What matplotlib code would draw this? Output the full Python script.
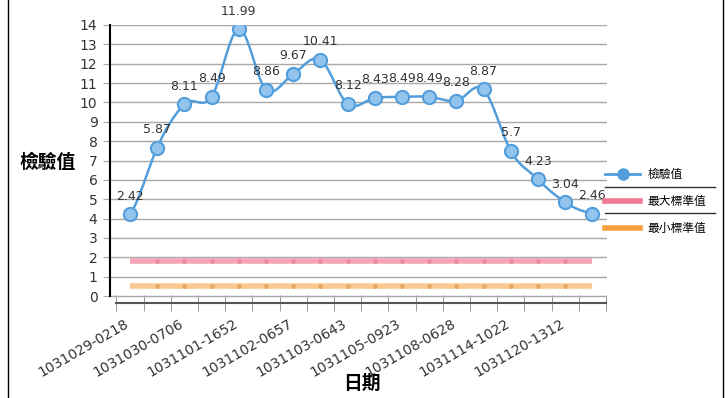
import matplotlib
matplotlib.use('Agg')
import matplotlib.pyplot as plt
from matplotlib.lines import Line2D
from matplotlib.transforms import ScaledTranslation
import numpy as np

plt.rcParams['font.family'] = ['DejaVu Sans', 'Noto Sans CJK TC']

# data
dates = ['1031029-0218', '1031029-1210', '1031030-0706', '1031030-1530',
         '1031101-1652', '1031102-0208', '1031102-0657', '1031102-1540',
         '1031103-0643', '1031104-0915', '1031105-0923', '1031106-0810',
         '1031108-0628', '1031110-0945', '1031114-1022', '1031117-1105',
         '1031120-1312', '1031124-0930']
values = [2.42, 5.87, 8.11, 8.49, 11.99, 8.86, 9.67, 10.41, 8.12,
          8.43, 8.49, 8.49, 8.28, 8.87, 5.7, 4.23, 3.04, 2.46]
max_std = 1.8
min_std = 0.5

blue = '#529edc'
pink = '#f5a5b5'
orange = '#f9c890'

def smooth(x, y, n=20, t=0.55):
    # catmull-rom style curve through the points
    x = np.asarray(x, float)
    y = np.asarray(y, float)
    xs, ys = [], []
    for i in range(len(x) - 1):
        y0 = y[i - 1] if i > 0 else y[i]
        y3 = y[i + 2] if i + 2 < len(y) else y[i + 1]
        m1 = t * (y[i + 1] - y0)
        m2 = t * (y3 - y[i])
        s = np.linspace(0, 1, n, endpoint=False)
        h00 = 2 * s**3 - 3 * s**2 + 1
        h10 = s**3 - 2 * s**2 + s
        h01 = -2 * s**3 + 3 * s**2
        h11 = s**3 - s**2
        xs.append(x[i] + s * (x[i + 1] - x[i]))
        ys.append(h00 * y[i] + h10 * m1 + h01 * y[i + 1] + h11 * m2)
    xs.append([x[-1]])
    ys.append([y[-1]])
    return np.concatenate(xs), np.concatenate(ys)

fig = plt.figure(figsize=(7.28, 3.98), dpi=100)
ax = fig.add_axes([110 / 728, 1 - 303 / 398, 497 / 728, 278 / 398])

x = np.arange(len(values))
stacked = np.array(values) + max_std

# standard lines
ax.plot(x, [max_std] * len(x), color=pink, lw=4, solid_capstyle='butt', zorder=3)
ax.plot(x[1:-1], [max_std] * (len(x) - 2), ls='none', marker='o', ms=2.5, color='#e98da0', zorder=3)
ax.plot(x, [min_std] * len(x), color=orange, lw=4, solid_capstyle='butt', zorder=3)
ax.plot(x[1:-1], [min_std] * (len(x) - 2), ls='none', marker='o', ms=2.5, color='#e9a964', zorder=3)

# measured values
sx, sy = smooth(x, stacked)
ax.plot(sx, sy, color=blue, lw=1.8, zorder=4)
ax.plot(x, stacked, ls='none', marker='o', ms=9.5, mfc='#92c4ee', mec=blue, mew=1.5, zorder=5)
for xi, yi, v in zip(x, stacked, values):
    ax.annotate(f'{v:g}', (xi, yi), xytext=(0, 13), textcoords='offset points',
                ha='center', va='center', fontsize=9, color='#333333', zorder=6)

ax.set_xlim(-0.735, 17.54)
ax.set_ylim(-0.36, 14)
ax.set_yticks(range(0, 15))
ax.yaxis.grid(True, color='#a8a8a8', lw=1)
ax.set_axisbelow(True)
ax.tick_params(axis='y', length=5, color='#a8a8a8', labelsize=10, labelcolor='#333333', pad=4)

ax.set_xticks(x[::2])
ax.set_xticklabels(dates[::2], rotation=30, ha='right', va='top', rotation_mode='anchor',
                   fontsize=10, color='#333333')
ax.set_xticks(np.arange(-0.5, 18, 1), minor=True)
ax.tick_params(axis='x', which='major', length=0, pad=10)
ax.tick_params(axis='x', which='minor', direction='inout', length=11, color='#888888')
for lab in ax.get_xticklabels():
    lab.set_transform(lab.get_transform() + ScaledTranslation(-4 / 72, 0, fig.dpi_scale_trans))

for s in ['top', 'right']:
    ax.spines[s].set_visible(False)
ax.spines['left'].set_bounds(0, 14)
ax.spines['left'].set_linewidth(1.5)
ax.spines['bottom'].set_bounds(-0.5, 17.5)
ax.spines['bottom'].set_color('#555555')
ax.spines['bottom'].set_linewidth(1.5)

fig.text(47 / 728, 1 - 162 / 398, '檢驗值', fontsize=13.5, fontweight='bold', ha='center', va='center')
fig.text(362 / 728, 1 - 383 / 398, '日期', fontsize=13.5, fontweight='bold', ha='center', va='center')

# legend
handles = [Line2D([], [], color=blue, lw=2, marker='o', ms=8, mfc=blue, mec=blue),
           Line2D([], [], color='#f07890', lw=4),
           Line2D([], [], color='#f9a040', lw=4)]
fig.legend(handles, ['檢驗值', '最大標準值', '最小標準值'], loc='upper left',
           bbox_to_anchor=(605 / 728, 1 - 168 / 398), frameon=False, fontsize=8.5,
           handlelength=3, handletextpad=0.6, labelspacing=1.2, borderpad=0, borderaxespad=0)
for yy in [187, 213]:
    fig.add_artist(Line2D([605 / 728, 715 / 728], [1 - yy / 398] * 2, color='#333333', lw=1))

# outer frame
for xx in [8, 723]:
    fig.add_artist(Line2D([xx / 728] * 2, [0, 1], color='black', lw=1))

fig.savefig('out.png', dpi=100)
